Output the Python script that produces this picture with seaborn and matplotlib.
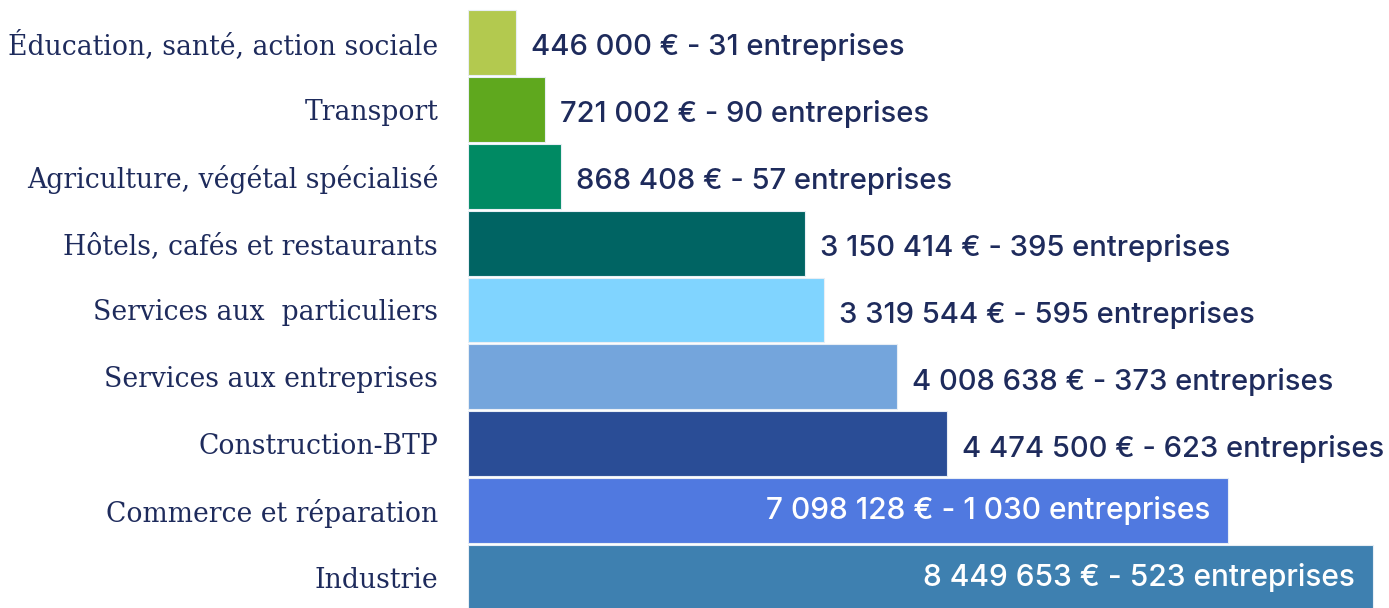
import pandas as pd
import matplotlib.pyplot as plt
import seaborn as sns

# data
secteurs = ["Éducation, santé, action sociale", "Transport", "Agriculture, végétal spécialisé",
            "Hôtels, cafés et restaurants", "Services aux  particuliers", "Services aux entreprises",
            "Construction-BTP", "Commerce et réparation", "Industrie"]
montants = [446000, 721002, 868408, 3150414, 3319544, 4008638, 4474500, 7098128, 8449653]
entreprises = [31, 90, 57, 395, 595, 373, 623, 1030, 523]
couleurs = ["#b3c94f", "#5fa81e", "#008a63", "#006463", "#80d4ff",
            "#74a5dc", "#2a4d96", "#5079e0", "#3e80b0"]

data = pd.DataFrame({"Secteur": secteurs, "Montant": montants, "Entreprises": entreprises})


def fmt(n):
    return f"{n:,}".replace(",", " ")


sns.set_style("white")
plt.rcParams["font.family"] = ["DejaVu Sans"]

fig = plt.figure(figsize=(13.89, 6.08), dpi=100)
ax = fig.add_axes([468 / 1389, -3 / 608, 921 / 1389, 602 / 608])

sns.barplot(x="Montant", y="Secteur", data=data, hue="Secteur", palette=couleurs,
            legend=False, width=0.97, saturation=1, edgecolor="#e8eef5",
            linewidth=0.8, ax=ax)

ax.set_xlim(0, 8599040)
ax.set_ylim(8.5, -0.5)
sns.despine(ax=ax, left=True, bottom=True)
ax.set_xticks([])
ax.set_xlabel("")
ax.set_ylabel("")
ax.tick_params(axis="y", length=0, pad=21.5)
for lab in ax.get_yticklabels():
    lab.set_fontfamily("DejaVu Serif")
    lab.set_fontsize(19.2)
    lab.set_color("#1e2b5c")

# value labels: outside for short bars, inside for the two longest
for i, (m, e) in enumerate(zip(montants, entreprises)):
    txt = f"{fmt(m)} € - {fmt(e)} entreprises"
    if i >= 7:
        ax.annotate(txt, (m, i), xytext=(-18, 0), textcoords="offset pixels",
                    ha="right", va="center", color="white", fontsize=21.5,
                    fontfamily=["Inter", "DejaVu Sans"], fontweight="medium")
    else:
        ax.annotate(txt, (m, i), xytext=(15, -5), textcoords="offset pixels",
                    ha="left", va="center", color="#1e2b5c", fontsize=21,
                    fontfamily=["Inter", "DejaVu Sans"], fontweight="medium")

fig.savefig("out.png", dpi=100)
